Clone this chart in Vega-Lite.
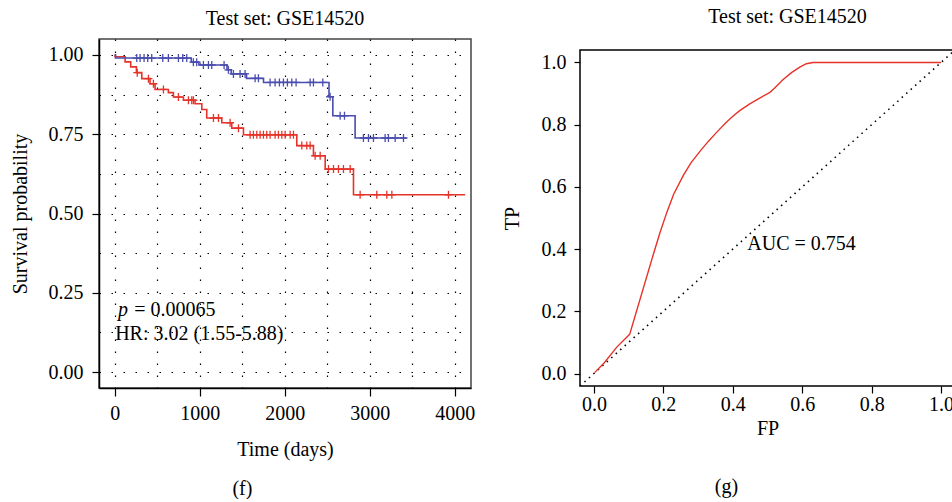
{
  "$schema": "https://vega.github.io/schema/vega-lite/v6.json",
  "background": "white",
  "padding": {"left": 9, "top": 7, "right": 0, "bottom": 0},
  "config": {
    "font": "Liberation Serif",
    "title": {"font": "Liberation Serif", "fontSize": 20, "fontWeight": "normal", "color": "black"},
    "axis": {
      "labelFont": "Liberation Serif", "labelFontSize": 20, "labelColor": "black",
      "titleFont": "Liberation Serif", "titleFontSize": 20, "titleFontWeight": "normal", "titleColor": "black",
      "tickColor": "black", "domainColor": "black"
    }
  },
  "spacing": 25,
  "hconcat": [
    {
      "title": {"text": "(f)", "orient": "bottom", "anchor": "middle", "offset": 19, "dx": 0, "fontSize": 20, "font": "Liberation Serif", "fontWeight": "normal"},
      "vconcat": [
        {
          "title": {"text": "Test set: GSE14520", "frame": "group", "anchor": "middle", "offset": 10, "dx": 0, "fontSize": 20, "font": "Liberation Serif", "fontWeight": "normal"},
          "width": 372,
          "height": 349,
          "view": {"stroke": "#444", "strokeWidth": 1.5},
          "layer": [
            {
              "data": {"values": [
                {"group": "high", "t": 0, "s": 1.0}, {"group": "high", "t": 4, "s": 0.994}, {"group": "high", "t": 122, "s": 0.978},
                {"group": "high", "t": 188, "s": 0.962}, {"group": "high", "t": 255, "s": 0.944}, {"group": "high", "t": 318, "s": 0.925},
                {"group": "high", "t": 415, "s": 0.909}, {"group": "high", "t": 474, "s": 0.891}, {"group": "high", "t": 631, "s": 0.881},
                {"group": "high", "t": 690, "s": 0.867}, {"group": "high", "t": 808, "s": 0.857}, {"group": "high", "t": 945, "s": 0.846},
                {"group": "high", "t": 1024, "s": 0.828}, {"group": "high", "t": 1082, "s": 0.801}, {"group": "high", "t": 1259, "s": 0.786},
                {"group": "high", "t": 1376, "s": 0.769}, {"group": "high", "t": 1514, "s": 0.748}, {"group": "high", "t": 2141, "s": 0.714},
                {"group": "high", "t": 2337, "s": 0.682}, {"group": "high", "t": 2475, "s": 0.640}, {"group": "high", "t": 2808, "s": 0.559},
                {"group": "high", "t": 4122, "s": 0.559},
                {"group": "low", "t": 0, "s": 1.0}, {"group": "low", "t": 10, "s": 0.99}, {"group": "low", "t": 900, "s": 0.977},
                {"group": "low", "t": 990, "s": 0.968}, {"group": "low", "t": 1320, "s": 0.953}, {"group": "low", "t": 1370, "s": 0.94},
                {"group": "low", "t": 1550, "s": 0.926}, {"group": "low", "t": 1750, "s": 0.913}, {"group": "low", "t": 2520, "s": 0.868},
                {"group": "low", "t": 2565, "s": 0.808}, {"group": "low", "t": 2827, "s": 0.738}, {"group": "low", "t": 3430, "s": 0.738}
              ]},
              "mark": {"type": "line", "interpolate": "step-after", "strokeWidth": 1.6},
              "encoding": {
                "x": {
                  "field": "t", "type": "quantitative",
                  "scale": {"domain": [-185, 4190], "nice": false, "zero": false},
                  "axis": {
                    "title": "Time (days)", "values": [0, 500, 1000, 1500, 2000, 2500, 3000, 3500, 4000],
                    "labelExpr": "datum.value % 1000 === 0 ? format(datum.value, 'd') : ''",
                    "tickOpacity": {"condition": {"test": "datum.value % 1000 === 0", "value": 1}, "value": 0},
                    "tickSize": 8, "tickWidth": 1.2, "labelPadding": 7, "titlePadding": 16,
                    "grid": true, "gridColor": "black", "gridDash": [1.5, 10.5], "gridWidth": 1.2,
                    "domainWidth": 1.5
                  }
                },
                "y": {
                  "field": "s", "type": "quantitative",
                  "scale": {"domain": [-0.05, 1.05], "nice": false, "zero": false},
                  "axis": {
                    "title": "Survival probability",
                    "values": [0, 0.125, 0.25, 0.375, 0.5, 0.625, 0.75, 0.875, 1.0],
                    "labelExpr": "(datum.value * 4) % 1 === 0 ? format(datum.value, '.2f') : ''",
                    "tickOpacity": {"condition": {"test": "(datum.value * 4) % 1 === 0", "value": 1}, "value": 0},
                    "tickSize": 7, "tickWidth": 1.2, "labelPadding": 9, "titlePadding": 18,
                    "grid": true, "gridColor": "black", "gridDash": [1.5, 10.5], "gridWidth": 1.2,
                    "domainWidth": 1.5
                  }
                },
                "color": {"field": "group", "type": "nominal", "scale": {"domain": ["high", "low"], "range": ["#E5332A", "#4A4DAE"]}, "legend": null}
              }
            },
            {
              "data": {"values": [
                {"group": "high", "t": 265, "s": 0.944}, {"group": "high", "t": 396, "s": 0.925}, {"group": "high", "t": 455, "s": 0.909},
                {"group": "high", "t": 573, "s": 0.891}, {"group": "high", "t": 749, "s": 0.867}, {"group": "high", "t": 867, "s": 0.857},
                {"group": "high", "t": 906, "s": 0.857}, {"group": "high", "t": 925, "s": 0.857}, {"group": "high", "t": 1161, "s": 0.801},
                {"group": "high", "t": 1220, "s": 0.801}, {"group": "high", "t": 1357, "s": 0.786}, {"group": "high", "t": 1455, "s": 0.769},
                {"group": "high", "t": 1592, "s": 0.748}, {"group": "high", "t": 1631, "s": 0.748}, {"group": "high", "t": 1671, "s": 0.748},
                {"group": "high", "t": 1710, "s": 0.748}, {"group": "high", "t": 1749, "s": 0.748}, {"group": "high", "t": 1788, "s": 0.748},
                {"group": "high", "t": 1827, "s": 0.748}, {"group": "high", "t": 1886, "s": 0.748}, {"group": "high", "t": 1925, "s": 0.748},
                {"group": "high", "t": 1965, "s": 0.748}, {"group": "high", "t": 2004, "s": 0.748}, {"group": "high", "t": 2063, "s": 0.748},
                {"group": "high", "t": 2102, "s": 0.748}, {"group": "high", "t": 2200, "s": 0.714}, {"group": "high", "t": 2259, "s": 0.714},
                {"group": "high", "t": 2298, "s": 0.714}, {"group": "high", "t": 2357, "s": 0.682}, {"group": "high", "t": 2416, "s": 0.682},
                {"group": "high", "t": 2514, "s": 0.640}, {"group": "high", "t": 2573, "s": 0.640}, {"group": "high", "t": 2631, "s": 0.640},
                {"group": "high", "t": 2690, "s": 0.640}, {"group": "high", "t": 2769, "s": 0.640}, {"group": "high", "t": 2886, "s": 0.559},
                {"group": "high", "t": 3082, "s": 0.559}, {"group": "high", "t": 3200, "s": 0.559}, {"group": "high", "t": 3259, "s": 0.559},
                {"group": "high", "t": 3925, "s": 0.559},
                {"group": "low", "t": 259, "s": 0.99}, {"group": "low", "t": 298, "s": 0.99}, {"group": "low", "t": 345, "s": 0.99},
                {"group": "low", "t": 388, "s": 0.99}, {"group": "low", "t": 435, "s": 0.99}, {"group": "low", "t": 565, "s": 0.99},
                {"group": "low", "t": 631, "s": 0.99}, {"group": "low", "t": 749, "s": 0.99}, {"group": "low", "t": 800, "s": 0.99},
                {"group": "low", "t": 847, "s": 0.99}, {"group": "low", "t": 925, "s": 0.977}, {"group": "low", "t": 964, "s": 0.977},
                {"group": "low", "t": 1043, "s": 0.968}, {"group": "low", "t": 1102, "s": 0.968}, {"group": "low", "t": 1141, "s": 0.968},
                {"group": "low", "t": 1286, "s": 0.968}, {"group": "low", "t": 1337, "s": 0.953}, {"group": "low", "t": 1396, "s": 0.94},
                {"group": "low", "t": 1474, "s": 0.94}, {"group": "low", "t": 1533, "s": 0.94}, {"group": "low", "t": 1651, "s": 0.926},
                {"group": "low", "t": 1690, "s": 0.926}, {"group": "low", "t": 1827, "s": 0.913}, {"group": "low", "t": 1886, "s": 0.913},
                {"group": "low", "t": 1937, "s": 0.913}, {"group": "low", "t": 1984, "s": 0.913}, {"group": "low", "t": 2031, "s": 0.913},
                {"group": "low", "t": 2082, "s": 0.913}, {"group": "low", "t": 2133, "s": 0.913}, {"group": "low", "t": 2298, "s": 0.913},
                {"group": "low", "t": 2337, "s": 0.913}, {"group": "low", "t": 2447, "s": 0.913}, {"group": "low", "t": 2533, "s": 0.868},
                {"group": "low", "t": 2651, "s": 0.808}, {"group": "low", "t": 2702, "s": 0.808}, {"group": "low", "t": 2925, "s": 0.738},
                {"group": "low", "t": 2984, "s": 0.738}, {"group": "low", "t": 3043, "s": 0.738}, {"group": "low", "t": 3180, "s": 0.738},
                {"group": "low", "t": 3219, "s": 0.738}, {"group": "low", "t": 3298, "s": 0.738}, {"group": "low", "t": 3396, "s": 0.738}
              ]},
              "mark": {"type": "point", "shape": "M-1,0H1M0,-1V1", "filled": false, "size": 64, "strokeWidth": 1.3, "opacity": 1},
              "encoding": {
                "x": {"field": "t", "type": "quantitative"},
                "y": {"field": "s", "type": "quantitative"},
                "color": {"field": "group", "type": "nominal", "legend": null}
              }
            },
            {
              "data": {"values": [{"t": 38, "s": 0.196, "label": "p"}]},
              "mark": {"type": "text", "align": "left", "baseline": "middle", "fontSize": 20, "fontStyle": "italic", "color": "black"},
              "encoding": {"x": {"field": "t", "type": "quantitative"}, "y": {"field": "s", "type": "quantitative"}, "text": {"field": "label"}}
            },
            {
              "data": {"values": [
                {"t": 230, "s": 0.196, "label": "= 0.00065"},
                {"t": 5, "s": 0.12, "label": "HR: 3.02 (1.55-5.88)"}
              ]},
              "mark": {"type": "text", "align": "left", "baseline": "middle", "fontSize": 20, "color": "black"},
              "encoding": {"x": {"field": "t", "type": "quantitative"}, "y": {"field": "s", "type": "quantitative"}, "text": {"field": "label"}}
            }
          ]
        }
      ]
    },
    {
      "title": {"text": "(g)", "orient": "bottom", "anchor": "middle", "offset": 38, "dx": -2, "fontSize": 20, "font": "Liberation Serif", "fontWeight": "normal"},
      "spacing": 6,
      "vconcat": [
        {
          "title": {"text": "Test set: GSE14520", "frame": "group", "anchor": "middle", "offset": 10, "dx": 20, "fontSize": 20, "font": "Liberation Serif", "fontWeight": "normal"},
          "width": 375,
          "height": 2,
          "view": {"stroke": null},
          "data": {"values": [{"k": 1}]},
          "mark": {"type": "point", "opacity": 0},
          "encoding": {}
        },
        {
          "width": 375,
          "height": 336,
          "view": {"stroke": "black", "strokeWidth": 1.5},
          "layer": [
            {
              "data": {"values": [{"fp": -0.04, "tp": -0.04}, {"fp": 1.04, "tp": 1.04}]},
              "mark": {"type": "line", "color": "black", "strokeDash": [1.5, 4.5], "strokeWidth": 1.6, "clip": true},
              "encoding": {
                "x": {
                  "field": "fp", "type": "quantitative",
                  "scale": {"domain": [-0.04, 1.04], "nice": false, "zero": false},
                  "axis": {"title": "FP", "values": [0, 0.2, 0.4, 0.6, 0.8, 1.0], "format": ".1f", "grid": false, "domain": false,
                    "tickSize": 7, "tickWidth": 1.2, "labelPadding": 1, "titlePadding": 4}
                },
                "y": {
                  "field": "tp", "type": "quantitative",
                  "scale": {"domain": [-0.04, 1.04], "nice": false, "zero": false},
                  "axis": {"title": "TP", "values": [0, 0.2, 0.4, 0.6, 0.8, 1.0], "format": ".1f", "grid": false, "domain": false,
                    "tickSize": 6, "tickWidth": 1.2, "labelPadding": 8, "titlePadding": 19}
                }
              }
            },
            {
              "data": {"values": [
                {"fp": 0.002, "tp": 0.003}, {"fp": 0.03, "tp": 0.035}, {"fp": 0.066, "tp": 0.085}, {"fp": 0.103, "tp": 0.126},
                {"fp": 0.172, "tp": 0.386}, {"fp": 0.19, "tp": 0.452}, {"fp": 0.21, "tp": 0.518},
                {"fp": 0.23, "tp": 0.577}, {"fp": 0.258, "tp": 0.638}, {"fp": 0.28, "tp": 0.678}, {"fp": 0.306, "tp": 0.715},
                {"fp": 0.33, "tp": 0.747}, {"fp": 0.354, "tp": 0.776}, {"fp": 0.38, "tp": 0.806}, {"fp": 0.401, "tp": 0.828},
                {"fp": 0.42, "tp": 0.845}, {"fp": 0.449, "tp": 0.867}, {"fp": 0.48, "tp": 0.887}, {"fp": 0.507, "tp": 0.904},
                {"fp": 0.52, "tp": 0.917}, {"fp": 0.545, "tp": 0.945}, {"fp": 0.57, "tp": 0.968}, {"fp": 0.593, "tp": 0.985},
                {"fp": 0.612, "tp": 0.996}, {"fp": 0.631, "tp": 1.0}, {"fp": 1.0, "tp": 1.0}
              ]},
              "mark": {"type": "line", "color": "#E5332A", "strokeWidth": 1.4},
              "encoding": {"x": {"field": "fp", "type": "quantitative"}, "y": {"field": "tp", "type": "quantitative"}}
            },
            {
              "data": {"values": [{"fp": 0.598, "tp": 0.418, "label": "AUC = 0.754"}]},
              "mark": {"type": "text", "align": "center", "baseline": "middle", "fontSize": 20, "color": "black"},
              "encoding": {"x": {"field": "fp", "type": "quantitative"}, "y": {"field": "tp", "type": "quantitative"}, "text": {"field": "label"}}
            }
          ]
        }
      ]
    }
  ]
}
